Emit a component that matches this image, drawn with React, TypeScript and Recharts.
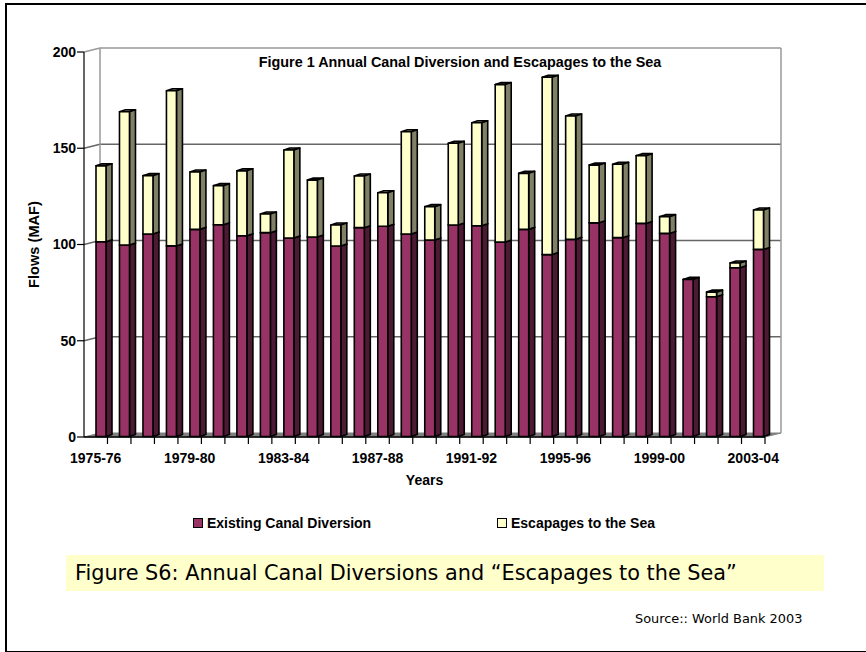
import { BarChart, Bar, XAxis, YAxis, CartesianGrid, Legend, ReferenceArea } from "recharts";

const categories = [
  "1975-76", "1976-77", "1977-78", "1978-79", "1979-80", "1980-81", "1981-82", "1982-83",
  "1983-84", "1984-85", "1985-86", "1986-87", "1987-88", "1988-89", "1989-90", "1990-91",
  "1991-92", "1992-93", "1993-94", "1994-95", "1995-96", "1996-97", "1997-98", "1998-99",
  "1999-00", "2000-01", "2001-02", "2002-03", "2003-04",
];
const diversion = [
  101.2, 99.5, 105.2, 99, 107.6, 110, 104.3, 105.9, 103.1, 103.6, 99, 108.5, 109.2, 105.2, 102.1,
  109.9, 109.5, 101, 107.6, 94.5, 102.4, 111, 103.3, 110.7, 105.5, 81.6, 72.6, 87.7, 97.2,
];
const escapages = [
  39.4, 69.2, 30.3, 80.6, 29.8, 20.3, 33.7, 9.7, 45.7, 29.6, 10.9, 26.8, 17.4, 53.1, 17.3,
  42.4, 53.5, 81.8, 29.1, 92.1, 64.1, 30, 38.1, 35.2, 8.7, 0, 2.4, 2.4, 20.5,
];
const yTicks = [0, 50, 100, 150, 200];

const data = categories.map((year, i) => ({ year, diversion: diversion[i], escapages: escapages[i] }));

const ARIAL = "'Liberation Sans', Arial, sans-serif";
const COMIC = "'Comic Sans MS', 'DejaVu Sans', sans-serif";
const DEPTH_X = 16;
const DEPTH_Y = 4;

// one stacked segment as a small box, pushed to the middle of the chart's depth
const box = (front: string, side: string) => (props: any) => {
  const x = props.x + 5;
  const y = props.y - 0.5;
  const w = props.width;
  const h = props.height;
  if (!h) return <g />;
  const dx = 6;
  const dy = 2;
  return (
    <g stroke="#000" strokeWidth={1.6} strokeLinejoin="round">
      <polygon points={`${x},${y} ${x + dx},${y - dy} ${x + w + dx},${y - dy} ${x + w},${y}`} fill={side} />
      <polygon points={`${x + w},${y} ${x + w + dx},${y - dy} ${x + w + dx},${y + h - dy} ${x + w},${y + h}`} fill={side} />
      <rect x={x} y={y} width={w} height={h} fill={front} />
    </g>
  );
};

const gridLine = (props: any) => {
  const { x1, y1, x2, y2, key } = props;
  const colour = y1 < 60 ? "#999999" : "#666666";
  if (y1 > 430) return <g key={key} />;
  return (
    <polyline
      key={key}
      points={`${x1},${y1} ${x1 + DEPTH_X},${y1 - DEPTH_Y} ${x2 + DEPTH_X},${y2 - DEPTH_Y}`}
      fill="none"
      stroke={colour}
      strokeWidth={1.5}
    />
  );
};

const walls = (props: any) => {
  const { x, y, width, height } = props;
  const left = x + DEPTH_X;
  const right = x + width + DEPTH_X;
  const top = y - DEPTH_Y;
  const bottom = y + height - DEPTH_Y;
  return (
    <g>
      <polygon points={`${x},${y + height} ${left},${bottom} ${right},${bottom} ${x + width},${y + height}`} fill="#808080" stroke="#808080" />
      <line x1={left} y1={top} x2={left} y2={bottom} stroke="#999999" strokeWidth={1.5} />
      <line x1={right} y1={top} x2={right} y2={bottom} stroke="#999999" strokeWidth={1.5} />
    </g>
  );
};

const bandTick = (props: any) => {
  const { x, y, index, payload } = props;
  const half = 681 / categories.length / 2;
  return (
    <g>
      <line x1={x + half} y1={y - 8} x2={x + half} y2={y - 1} stroke="#000" strokeWidth={1.2} />
      {index % 4 === 0 && (
        <text x={x} y={y + 18} textAnchor="middle" fontFamily={ARIAL} fontSize={14} fontWeight="bold" fill="#000">
          {payload.value}
        </text>
      )}
    </g>
  );
};

const legendContent = ({ payload }: any) => (
  <div style={{ position: "relative", height: 16, fontFamily: ARIAL, fontSize: 14, fontWeight: "bold", color: "#000" }}>
    {(payload || []).map((item: any, i: number) => (
      <div key={item.value} style={{ position: "absolute", left: i * 304, top: 0, whiteSpace: "nowrap", lineHeight: "16px" }}>
        <span
          style={{
            display: "inline-block",
            width: 8,
            height: 8,
            marginRight: 4,
            background: item.color,
            border: "1px solid #000",
          }}
        />
        {item.value}
      </div>
    ))}
  </div>
);

export default function App() {
  return (
    <div style={{ position: "absolute", left: 0, top: 0, width: 866, height: 652, background: "#fff", overflow: "hidden" }}>
      <div style={{ position: "absolute", left: 5, top: 3, width: 880, height: 646, borderLeft: "2px solid #000", borderTop: "2px solid #000", borderBottom: "2px solid #000" }} />
      <div style={{ position: "absolute", left: 66, top: 555, width: 758, height: 36, background: "#FFFFCC" }} />
      <div style={{ position: "absolute", left: 75, top: 558, fontFamily: COMIC, fontSize: 20.8, lineHeight: "30px", whiteSpace: "nowrap", color: "#000" }}>
        Figure S6: Annual Canal Diversions and “Escapages to the Sea”
      </div>
      <div style={{ position: "absolute", left: 635, top: 611, fontFamily: COMIC, fontSize: 12.9, lineHeight: "16px", whiteSpace: "nowrap", color: "#000" }}>
        Source:: World Bank 2003
      </div>
      <div style={{ position: "absolute", left: 0, top: 0 }}>
        <BarChart
          width={866}
          height={652}
          data={data}
          margin={{ top: 52, right: 101, bottom: 185, left: 44 }}
          barSize={10}
          style={{ background: "transparent" }}
        >
          <ReferenceArea y1={0} y2={200} shape={walls} />
          <CartesianGrid horizontal={gridLine} vertical={false} />
          <XAxis
            dataKey="year"
            interval={0}
            height={30}
            tick={bandTick}
            tickLine={false}
            axisLine={{ stroke: "#000", strokeWidth: 1.5 }}
            label={{ value: "Years", position: "insideBottom", offset: -18, fontFamily: ARIAL, fontSize: 14, fontWeight: "bold", fill: "#000" }}
          />
          <YAxis
            domain={[0, 200]}
            ticks={yTicks}
            width={40}
            tickSize={7}
            tickMargin={1}
            tick={{ fontFamily: ARIAL, fontSize: 14, fontWeight: "bold", fill: "#000" }}
            tickLine={{ stroke: "#000", strokeWidth: 1.2 }}
            axisLine={{ stroke: "#000", strokeWidth: 1.2 }}
            label={{ value: "Flows (MAF)", angle: -90, position: "insideLeft", offset: -10, textAnchor: "middle", fontFamily: ARIAL, fontSize: 14.6, fontWeight: "bold", fill: "#000" }}
          />
          <Legend
            verticalAlign="middle"
            itemSorter="dataKey"
            content={legendContent}
            wrapperStyle={{ position: "absolute", left: 193, top: 515, width: 500 }}
          />
          <Bar dataKey="diversion" name="Existing Canal Diversion" stackId="flows" fill="#993366" shape={box("#993366", "#4D1A33")} isAnimationActive={false} />
          <Bar dataKey="escapages" name="Escapages to the Sea" stackId="flows" fill="#FFFFCC" shape={box("#FFFFCC", "#808066")} isAnimationActive={false} />
          <text x={460} y={67} textAnchor="middle" fontFamily={ARIAL} fontSize={14.4} fontWeight="bold" fill="#000">
            Figure 1 Annual Canal Diversion and Escapages to the Sea
          </text>
        </BarChart>
      </div>
    </div>
  );
}
